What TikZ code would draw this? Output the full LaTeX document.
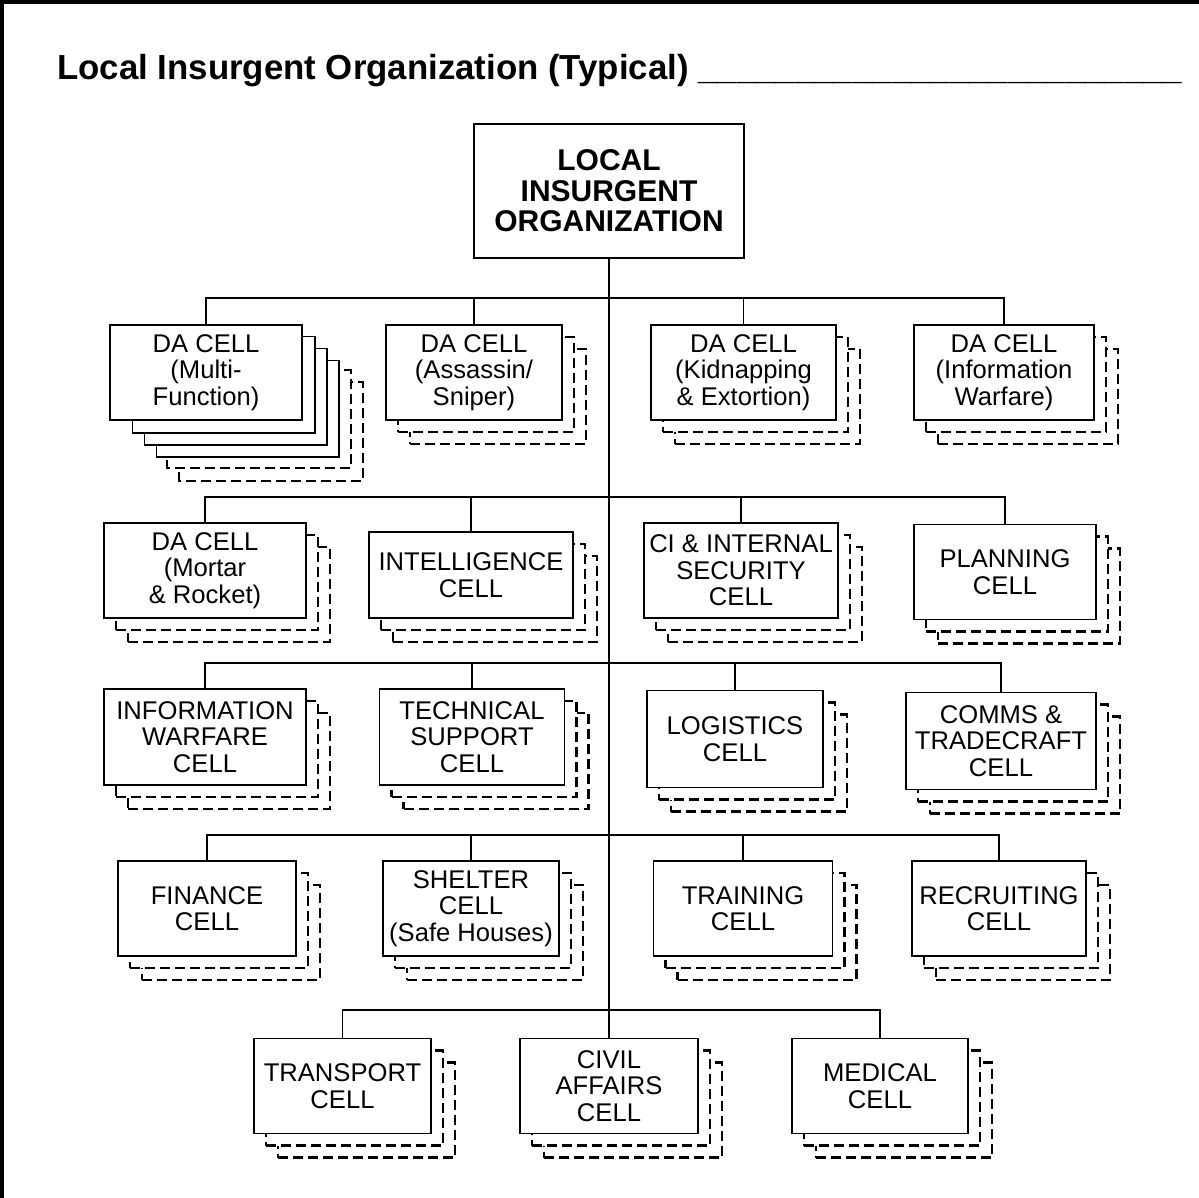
\documentclass[tikz,border=0pt]{standalone}
\usepackage{fontspec}
\setmainfont{Liberation Sans}
\usetikzlibrary{shadows,backgrounds}

\tikzset{
	cell/.style={shape=rectangle,draw=black,fill=white,line width=1.5pt,inner sep=0pt,align=center,
		font=\fontsize{25.6}{26.6}\selectfont,minimum height=95pt},
	copies/.style={cell,
		general shadow={draw=black,fill=white,line width=2.2pt,dash pattern=on 10pt off 5pt,shadow xshift=24pt,shadow yshift=-24pt},
		general shadow={draw=black,fill=white,line width=2.2pt,dash pattern=on 10pt off 5pt,shadow xshift=12pt,shadow yshift=-12pt}},
	sheet/.style={draw=black,fill=white,line width=1.5pt},
	dashsheet/.style={sheet,line width=2.2pt,dash pattern=on 10pt off 5pt},
	link/.style={draw=black,line width=1.5pt}
}

\begin{document}
\begin{tikzpicture}[x=1pt,y=-1pt]
	\useasboundingbox (0,0) rectangle (1199,1198);
	\draw[line width=4pt] (2,1198) -- (2,2) -- (1199,2);

	\node[anchor=base west,inner sep=0pt,font=\bfseries\fontsize{34.8}{40}\selectfont] (title) at (57,80)
		{Local Insurgent Organization (Typical) \_\_\_\_\_\_\_\_\_\_\_\_\_\_\_\_\_\_\_\_\_\_\_\_\_};

	\node[cell,font=\bfseries\fontsize{30}{30.6}\selectfont,minimum width=270pt,minimum height=134pt] (lio) at (609,191) {LOCAL\\INSURGENT\\ORGANIZATION};

	% direct action cells
	\node[cell,minimum width=192pt] (da1) at (206,372.5) {DA CELL\\(Multi-\\Function)};
	\node[copies,minimum width=176pt] (da2) at (474,372.5) {DA CELL\\(Assassin/\\Sniper)};
	\node[copies,minimum width=185pt] (da3) at (743.5,372.5) {DA CELL\\(Kidnapping\\\& Extortion)};
	\node[copies,minimum width=180pt] (da4) at (1004,372.5) {DA CELL\\(Information\\Warfare)};

	\node[copies,minimum width=202pt] (mor) at (205,570.5) {DA CELL\\(Mortar\\\& Rocket)};
	\node[copies,minimum width=204pt,minimum height=86pt] (int) at (471,575) {INTELLIGENCE\\CELL};
	\node[copies,minimum width=194pt] (ci) at (741,570.5) {CI \& INTERNAL\\SECURITY\\CELL};
	\node[copies,minimum width=182pt] (plan) at (1005,572) {PLANNING\\CELL};

	\node[copies,minimum width=202pt,minimum height=96pt] (iw) at (205,737) {INFORMATION\\WARFARE\\CELL};
	\node[copies,minimum width=185pt,minimum height=96pt] (tech) at (472,737) {TECHNICAL\\SUPPORT\\CELL};
	\node[copies,minimum width=176pt,minimum height=97pt] (log) at (735,739) {LOGISTICS\\CELL};
	\node[copies,minimum width=190pt,minimum height=97pt] (com) at (1001,741) {COMMS \&\\TRADECRAFT\\CELL};

	\node[copies,minimum width=178pt] (fin) at (207,908.5) {FINANCE\\CELL};
	\node[copies,minimum width=176pt] (shel) at (471,908.5) {SHELTER\\CELL\\(Safe Houses)};
	\node[copies,minimum width=179pt] (trn) at (743,908.5) {TRAINING\\CELL};
	\node[copies,minimum width=174pt] (rec) at (999,908.5) {RECRUITING\\CELL};

	\node[copies,minimum width=177pt] (trp) at (342.5,1086) {TRANSPORT\\CELL};
	\node[copies,minimum width=178pt] (civ) at (609,1086) {CIVIL\\AFFAIRS\\CELL};
	\node[copies,minimum width=176pt] (med) at (880,1086) {MEDICAL\\CELL};

	% the multi-function cells behind da1
	\begin{scope}[on background layer]
		\draw[dashsheet] ([shift={(70,58)}]da1.north west) rectangle ([shift={(60,60)}]da1.south east);
		\draw[dashsheet] ([shift={(58,46)}]da1.north west) rectangle ([shift={(48,47)}]da1.south east);
		\draw[sheet] ([shift={(47,36)}]da1.north west) rectangle ([shift={(36,36)}]da1.south east);
		\draw[sheet] ([shift={(35,24)}]da1.north west) rectangle ([shift={(24,24)}]da1.south east);
		\draw[sheet] ([shift={(23,12)}]da1.north west) rectangle ([shift={(12,12)}]da1.south east);
	\end{scope}

	% trunk and rows
	\coordinate (r1) at (609,298);
	\coordinate (r2) at (609,497);
	\coordinate (r3) at (609,663);
	\coordinate (r4) at (609,835);
	\coordinate (r5) at (609,1010);

	\draw[link] (lio.south) -- (civ.north);
	\draw[link] (r1) -| (da1.north);
	\draw[link] (r1) -| (da2.north);
	\draw[link] (r1) -| (da3.north);
	\draw[link] (r1) -| (da4.north);
	\draw[link] (r2) -| (mor.north);
	\draw[link] (r2) -| (int.north);
	\draw[link] (r2) -| (ci.north);
	\draw[link] (r2) -| (plan.north);
	\draw[link] (r3) -| (iw.north);
	\draw[link] (r3) -| (tech.north);
	\draw[link] (r3) -| (log.north);
	\draw[link] (r3) -| (com.north);
	\draw[link] (r4) -| (fin.north);
	\draw[link] (r4) -| (shel.north);
	\draw[link] (r4) -| (trn.north);
	\draw[link] (r4) -| (rec.north);
	\draw[link] (r5) -| (trp.north);
	\draw[link] (r5) -| (med.north);
\end{tikzpicture}
\end{document}
